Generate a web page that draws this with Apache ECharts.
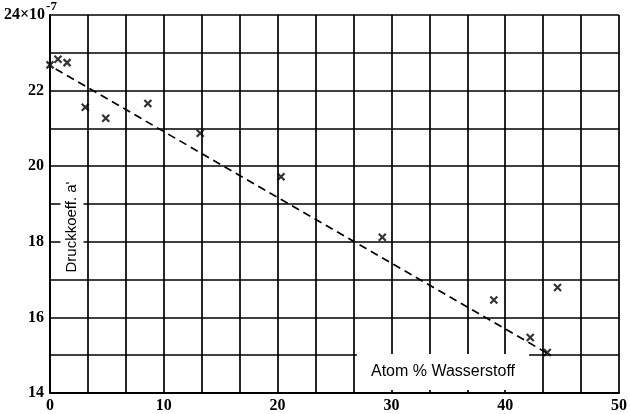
<!DOCTYPE html>
<html>
<head>
<meta charset="utf-8">
<script src="https://cdn.jsdelivr.net/npm/echarts@6/dist/echarts.min.js"></script>
<style>
  html, body { margin: 0; padding: 0; background: #fff; }
  #chart { width: 630px; height: 414px; }
</style>
</head>
<body>
<div id="chart"></div>
<script>
// Messpunkte (x = Atom-% Wasserstoff, y = Druckkoeff. in 1e-7)
var atomProzent = [0, 0.7, 1.5, 3.1, 4.9, 8.6, 13.2, 20.3, 29.2, 39.0, 42.2, 43.7, 44.6];
var druckKoeff  = [22.68, 22.83, 22.74, 21.56, 21.27, 21.66, 20.87, 19.72, 18.12, 16.46, 15.47, 15.07, 16.79];
// Ausgleichsgerade (gestrichelt)
var geradeX = [0.5, 43.7];
var geradeY = [22.57, 15.05];
var xTicks = [0, 10, 20, 30, 40, 50];
var yTicks = [14, 16, 18, 20, 22];

var chart = echarts.init(document.getElementById('chart'));
var fontTick = '"Liberation Serif", "DejaVu Serif", serif';
var fontSans = '"Liberation Sans", "DejaVu Sans", sans-serif';

var points = atomProzent.map(function (x, i) { return [x, druckKoeff[i]]; });
var linie = geradeX.map(function (x, i) { return [x, geradeY[i]]; });

chart.setOption({
  animation: false,
  backgroundColor: '#fff',
  title: {
    left: 4,
    top: 0,
    padding: 0,
    text: '{m|24×10}{s|-7}',
    textStyle: {
      rich: {
        m: { fontFamily: fontTick, fontWeight: 'bold', fontSize: 16, color: '#000', padding: [6, 0, 0, 0] },
        s: { fontFamily: fontTick, fontWeight: 'bold', fontSize: 13, color: '#000', padding: [0, 0, 10, 1] }
      }
    }
  },
  grid: { left: 50, right: 6, top: 15, bottom: 21, containLabel: false },
  xAxis: {
    type: 'value',
    min: 0,
    max: 50,
    interval: 10 / 3,
    axisLine: { lineStyle: { color: '#000', width: 2 } },
    axisTick: { show: false },
    splitLine: { show: true, lineStyle: { color: '#000', width: 1.7 } },
    axisLabel: {
      margin: 5,
      fontFamily: fontTick,
      fontWeight: 'bold',
      fontSize: 16,
      color: '#000',
      showMaxLabel: true,
      formatter: function (v) {
        for (var i = 0; i < xTicks.length; i++) {
          if (Math.abs(v - xTicks[i]) < 1e-6) return String(xTicks[i]);
        }
        return '';
      }
    }
  },
  yAxis: {
    type: 'value',
    min: 14,
    max: 24,
    interval: 1,
    axisLine: { show: true, lineStyle: { color: '#000', width: 2 } },
    axisTick: { show: false },
    splitLine: { show: true, lineStyle: { color: '#000', width: 1.7 } },
    axisLabel: {
      margin: 6,
      fontFamily: fontTick,
      fontWeight: 'bold',
      fontSize: 16,
      color: '#000',
      formatter: function (v) {
        return yTicks.indexOf(Math.round(v)) >= 0 && Math.abs(v - Math.round(v)) < 1e-6 ? String(Math.round(v)) : '';
      }
    }
  },
  graphic: [
    {
      type: 'text',
      z: 100,
      x: 443,
      y: 372,
      style: {
        text: 'Atom % Wasserstoff',
        fontFamily: fontSans,
        fontSize: 16,
        fill: '#000',
        align: 'center',
        verticalAlign: 'middle',
        backgroundColor: '#fff',
        padding: [10, 14, 10, 14]
      }
    },
    {
      type: 'text',
      z: 100,
      x: 72,
      y: 227,
      rotation: Math.PI / 2,
      style: {
        text: "Druckkoeff. a'",
        fontFamily: fontSans,
        fontSize: 15,
        fill: '#000',
        align: 'center',
        verticalAlign: 'middle',
        backgroundColor: '#fff',
        padding: [4, 6, 4, 6]
      }
    }
  ],
  series: [
    {
      type: 'line',
      data: linie,
      symbol: 'none',
      z: 5,
      lineStyle: { color: '#000', width: 1.7, type: [8, 5] }
    },
    {
      type: 'scatter',
      data: points,
      symbol: 'path://M0,0L10,10M10,0L0,10',
      symbolSize: 7,
      z: 6,
      itemStyle: { color: 'none', borderColor: '#000', borderWidth: 2.2 }
    }
  ]
});
</script>
</body>
</html>
